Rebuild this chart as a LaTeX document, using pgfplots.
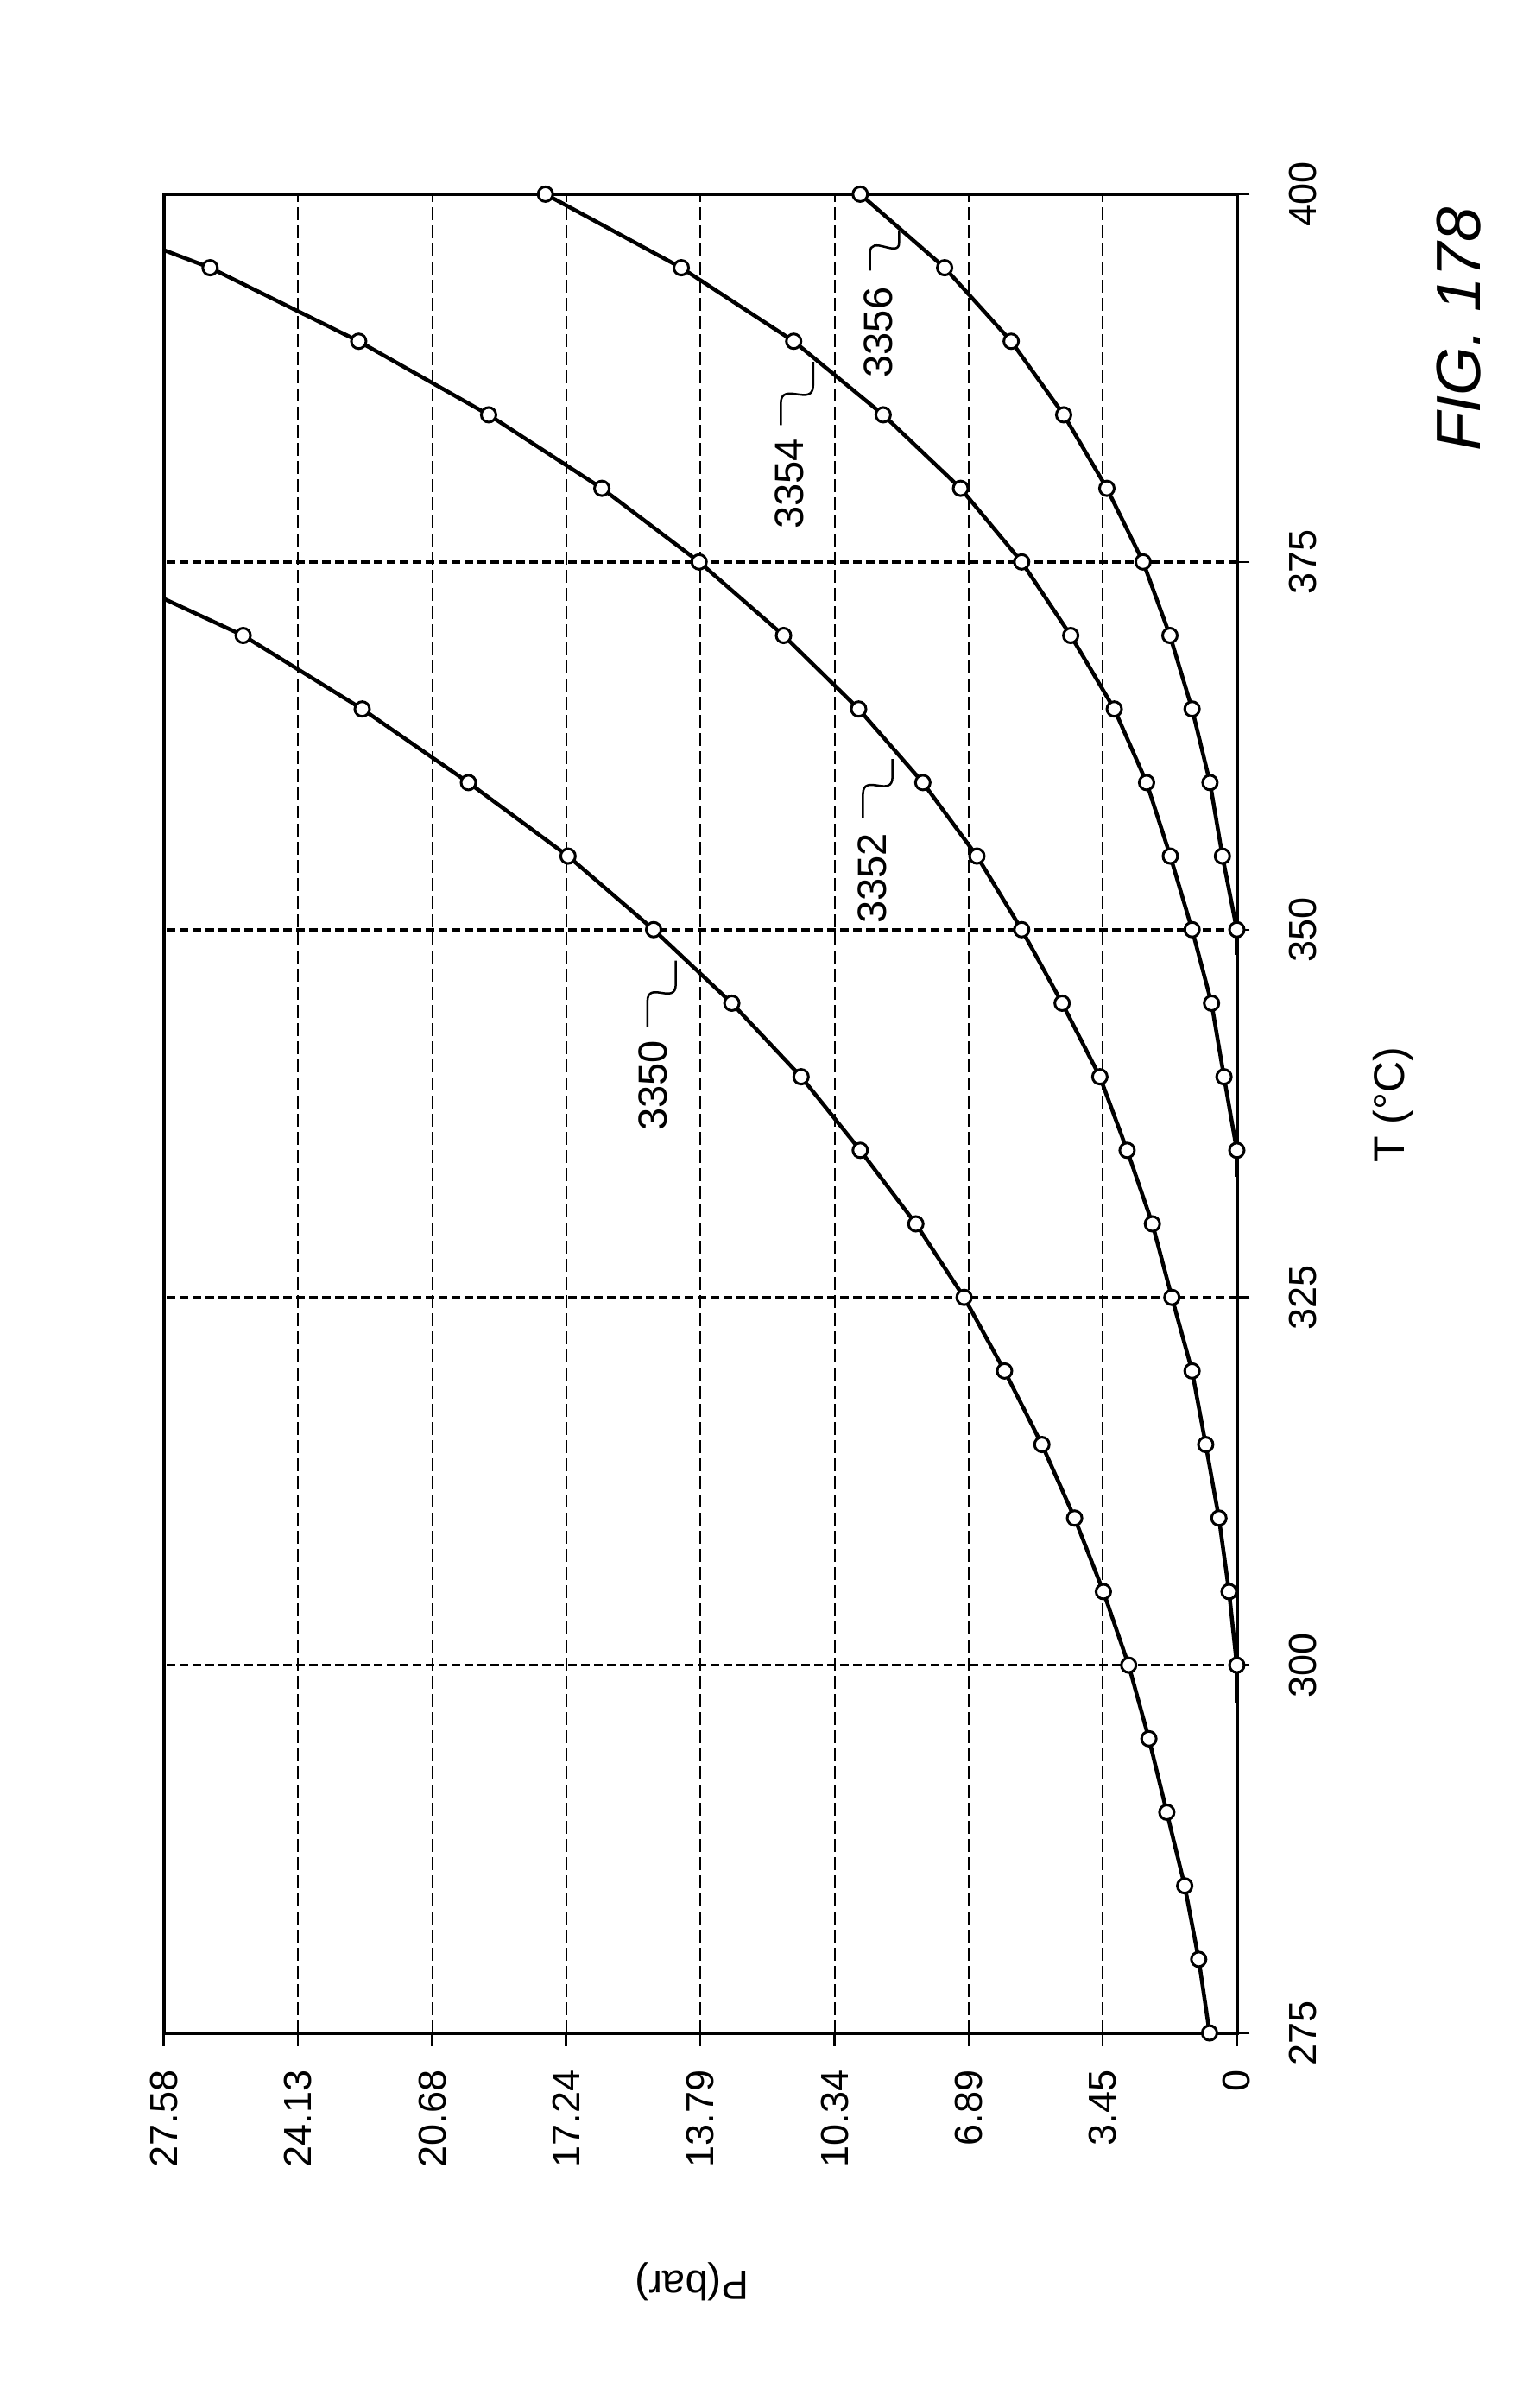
\documentclass[border=0pt]{standalone}
\usepackage{pgfplots}
\pgfplotsset{compat=1.18}
\usepackage{fontspec}
\setmainfont{Liberation Sans}
\newcommand\tickfont{\fontsize{9}{10}\selectfont}
\newcommand\annfont{\fontsize{9.4}{10}\selectfont}
\begin{document}
\begin{tikzpicture}
\begin{axis}[
  scale only axis, width=248.6pt, height=426pt,
  x dir=reverse,
  xmin=0, xmax=27.58, ymin=275, ymax=400,
  xtick={0,3.45,6.89,10.34,13.79,17.24,20.68,24.13,27.58},
  xticklabels={0,3.45,6.89,10.34,13.79,17.24,20.68,24.13,27.58},
  ytick={275,300,325,350,375,400},
  yticklabels={275,300,325,350,375,400},
  xtick pos=left, ytick pos=right,
  xticklabel pos=left, yticklabel pos=right,
  tick align=outside,
  major tick length=3pt,
  tick style={black, line width=0.5pt},
  axis line style={line width=0.8pt},
  grid=major,
  x grid style={dash pattern=on 3pt off 1.2pt, line width=0.4pt, black},
  y grid style={dash pattern=on 2pt off 1pt, line width=0.7pt, black},
  xticklabel style={rotate=90, anchor=east, inner sep=0pt, font=\tickfont},
  yticklabel style={rotate=90, anchor=north, inner sep=0pt, font=\tickfont},
  xticklabel shift=5.4pt,
  yticklabel shift=9pt,
  clip=false,
  every axis plot/.append style={black, line width=0.9pt, sharp plot},
]
% invisible frame giving the picture the reference's size
\path (axis cs:31.79,413.2) rectangle (axis cs:-7.68,249.5);

% curve 3350
\addplot[mark=*, mark size=1.7pt, mark options={fill=white, line width=0.6pt}] table {
P T
0.70 275
0.98 280
1.34 285
1.80 290
2.26 295
2.78 300
3.43 305
4.17 310
5.01 315
5.97 320
7.01 325
8.25 330
9.68 335
11.20 340
12.98 345
14.99 350
17.19 355
19.75 360
22.48 365
25.54 370
};
\addplot[no marks] coordinates {(25.54,370) (27.58,372.5)};

% curve 3352
\addplot[mark=*, mark size=1.7pt, mark options={fill=white, line width=0.6pt}] table {
P T
0.00 300
0.20 305
0.46 310
0.80 315
1.15 320
1.67 325
2.17 330
2.82 335
3.52 340
4.49 345
5.53 350
6.68 355
8.07 360
9.72 365
11.65 370
13.82 375
16.32 380
19.23 385
22.57 390
26.39 395
};
\addplot[no marks] coordinates {(0,297.4) (0,300)};
\addplot[no marks] coordinates {(26.39,395) (27.58,396.2)};

% curve 3354
\addplot[mark=*, mark size=1.7pt, mark options={fill=white, line width=0.6pt}] table {
P T
0.00 335
0.33 340
0.65 345
1.15 350
1.71 355
2.32 360
3.15 365
4.27 370
5.53 375
7.10 380
9.09 385
11.39 390
14.28 395
17.77 400
};
\addplot[no marks] coordinates {(0,333.2) (0,335)};

% curve 3356
\addplot[mark=*, mark size=1.7pt, mark options={fill=white, line width=0.6pt}] table {
P T
0.00 350
0.37 355
0.69 360
1.15 365
1.72 370
2.41 375
3.34 380
4.45 385
5.80 390
7.51 395
9.68 400
};
\addplot[no marks] coordinates {(0,348.3) (0,350)};

% reference numerals with leaders
\node[rotate=90, font=\annfont] at (axis cs:15.00,339.4) {3350};
\draw[line width=0.5pt] (axis cs:15.15,343.4) -- (axis cs:15.15,345.1)
  .. controls (axis cs:15.15,346.6) and (axis cs:14.42,344.8) .. (axis cs:14.42,346.3)
  -- (axis cs:14.42,347.9);

\node[rotate=90, font=\annfont] at (axis cs:9.36,353.5) {3352};
\draw[line width=0.5pt] (axis cs:9.61,357.6) -- (axis cs:9.61,359.2)
  .. controls (axis cs:9.61,360.7) and (axis cs:8.85,358.9) .. (axis cs:8.85,360.4)
  -- (axis cs:8.85,361.6);

\node[rotate=90, font=\annfont] at (axis cs:11.49,380.3) {3354};
\draw[line width=0.5pt] (axis cs:11.72,384.3) -- (axis cs:11.72,385.8)
  .. controls (axis cs:11.72,387.3) and (axis cs:10.89,385.5) .. (axis cs:10.89,387.0)
  -- (axis cs:10.89,388.6);

\node[rotate=90, font=\annfont] at (axis cs:9.21,390.6) {3356};
\draw[line width=0.5pt] (axis cs:9.43,394.8) -- (axis cs:9.43,396.0)
  .. controls (axis cs:9.43,397.3) and (axis cs:8.68,395.6) .. (axis cs:8.68,396.7)
  -- (axis cs:8.68,397.5);

% axis titles
\node[rotate=90, font=\fontsize{10}{12}\selectfont] at (axis cs:-4.02,338.1) {T (°C)};
\node[rotate=180, font=\fontsize{9.5}{11}\selectfont] at (axis cs:14.0,258.1) {P(bar)};
\node[rotate=90, font=\fontsize{14.5}{16}\selectfont\itshape] at (axis cs:-5.70,390.8) {FIG. 178};
\end{axis}
\end{tikzpicture}
\end{document}
